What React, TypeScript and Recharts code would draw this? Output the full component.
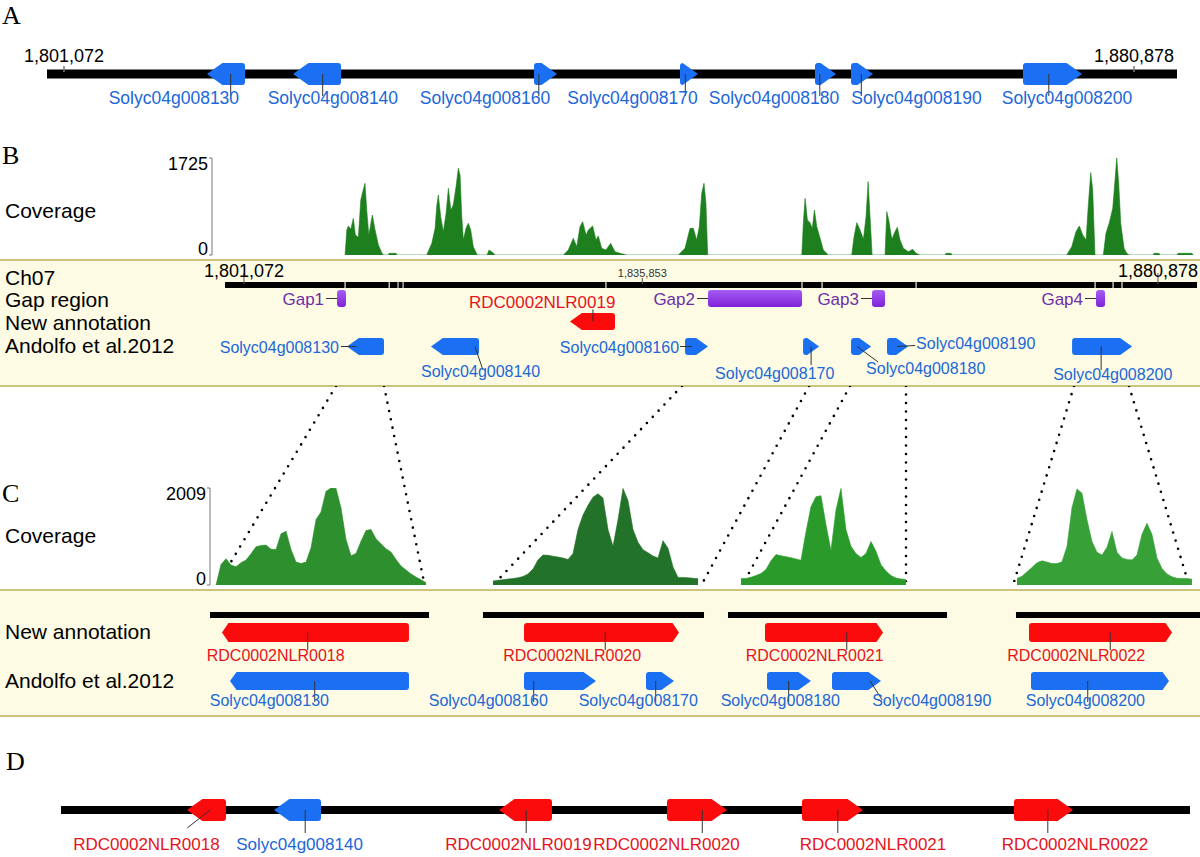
import React from "react";
import { ComposedChart, Line, Area, XAxis, YAxis, ReferenceArea } from "recharts";

const SANS = "'Liberation Sans', Arial, Helvetica, sans-serif";
const SERIF = "'Liberation Serif', 'Times New Roman', serif";

const BLUE = "#1a6ff2";
const BLUE_TEXT = "#2067d8";
const RED = "#fb0b0b";
const RED_TEXT = "#e5141c";
const PURPLE_TEXT = "#6d2ea8";

// ---------- panel A (kb) ----------
const aBackbone = [1799.804, 1884.086];
const aTicks = [1801.072, 1880.878];
const aGenes = [
  { name: "Solyc04g008130", start: 1811.738, end: 1814.572, strand: "-", source: "andolfo" },
  { name: "Solyc04g008140", start: 1818.152, end: 1821.732, strand: "-", source: "andolfo" },
  { name: "Solyc04g008160", start: 1836.127, end: 1837.843, strand: "+", source: "andolfo" },
  { name: "Solyc04g008170", start: 1847.017, end: 1848.359, strand: "+", source: "andolfo" },
  { name: "Solyc04g008180", start: 1857.086, end: 1858.652, strand: "+", source: "andolfo" },
  { name: "Solyc04g008190", start: 1859.771, end: 1861.412, strand: "+", source: "andolfo" },
  { name: "Solyc04g008200", start: 1872.599, end: 1877.0, strand: "+", source: "andolfo" },
];

// ---------- panel B (kb) ----------
const bTicks = [1801.072, 1835.853, 1880.878];
const bContigs = [
  [1799.42, 1809.85], [1809.95, 1813.7], [1813.8, 1814.48], [1814.57, 1814.92],
  [1815.01, 1832.63], [1832.73, 1849.75], [1849.85, 1851.5], [1851.6, 1859.71],
  [1859.81, 1875.34], [1875.44, 1876.91], [1877.01, 1877.69], [1877.79, 1884.29],
];
const bGaps = [
  { name: "Gap1", start: 1809.2, end: 1809.98 },
  { name: "Gap2", start: 1841.59, end: 1849.8 },
  { name: "Gap3", start: 1855.91, end: 1857.05 },
  { name: "Gap4", start: 1875.47, end: 1876.26 },
];
const bNewGenes = [
  { name: "RDC0002NLR0019", start: 1829.54, end: 1833.47, strand: "-", source: "new" },
];
const bAndolfoGenes = [
  { name: "Solyc04g008130", start: 1810.07, end: 1813.3, strand: "-", source: "andolfo" },
  { name: "Solyc04g008140", start: 1817.4, end: 1821.6, strand: "-", source: "andolfo" },
  { name: "Solyc04g008160", start: 1839.58, end: 1841.59, strand: "+", source: "andolfo" },
  { name: "Solyc04g008170", start: 1849.89, end: 1851.29, strand: "+", source: "andolfo" },
  { name: "Solyc04g008180", start: 1854.08, end: 1855.83, strand: "+", source: "andolfo" },
  { name: "Solyc04g008190", start: 1857.22, end: 1859.06, strand: "+", source: "andolfo" },
  { name: "Solyc04g008200", start: 1873.38, end: 1878.62, strand: "+", source: "andolfo" },
];
// read depth, [kb, depth]
const bCoverage = [
  [1809.9, 0], [1810.05, 445], [1810.19, 516], [1810.4, 457], [1810.62, 652], [1810.8, 356], [1811.06, 314],
  [1811.27, 978], [1811.5, 1168], [1811.64, 1275], [1811.79, 800], [1811.97, 356], [1812.08, 474], [1812.28, 711],
  [1812.52, 445], [1812.81, 178], [1813.1, 41], [1813.24, 0],
  [1813.65, 0], [1813.74, 30], [1814.35, 30], [1814.44, 0],
  [1817.03, 0], [1817.47, 207], [1817.76, 474], [1817.9, 860], [1818.04, 1067], [1818.25, 682], [1818.48, 415],
  [1818.72, 741], [1818.92, 1186], [1819.13, 800], [1819.35, 890], [1819.59, 1216], [1819.79, 1542], [1819.94, 1423],
  [1820.09, 682], [1820.23, 267], [1820.46, 474], [1820.66, 563], [1820.87, 445], [1821.1, 148], [1821.4, 18], [1821.47, 0],
  [1822.3, 0], [1822.47, 89], [1822.82, 40], [1822.99, 0],
  [1828.96, 0], [1829.39, 89], [1829.83, 297], [1830.13, 148], [1830.41, 504], [1830.65, 593], [1830.94, 356],
  [1831.14, 445], [1831.52, 516], [1831.81, 267], [1832.01, 338], [1832.31, 119], [1832.68, 89], [1833.09, 207],
  [1833.47, 59], [1833.91, 30], [1834.49, 0],
  [1839.0, 0], [1839.58, 119], [1840.02, 474], [1840.31, 474], [1840.6, 267], [1840.83, 504], [1841.04, 1097],
  [1841.24, 1275], [1841.41, 919], [1841.56, 0],
  [1849.78, 0], [1849.92, 593], [1850.07, 1008], [1850.27, 623], [1850.5, 575], [1850.7, 474], [1850.88, 800],
  [1851.09, 504], [1851.38, 297], [1851.66, 89], [1852.1, 0],
  [1854.14, 0], [1854.34, 326], [1854.58, 575], [1854.87, 445], [1855.16, 279], [1855.39, 682], [1855.57, 1305],
  [1855.74, 682], [1855.92, 0],
  [1857.05, 0], [1857.2, 771], [1857.37, 623], [1857.64, 279], [1857.92, 415], [1858.12, 492], [1858.36, 267],
  [1858.65, 119], [1859.08, 59], [1859.47, 101], [1859.76, 30], [1860.11, 0],
  [1862.29, 0], [1862.38, 30], [1862.81, 30], [1862.9, 0],
  [1872.91, 0], [1873.35, 148], [1873.72, 415], [1874.01, 516], [1874.31, 356], [1874.6, 267], [1874.8, 890],
  [1875.01, 1465], [1875.18, 1156], [1875.38, 0], [1876.11, 0], [1876.34, 385], [1876.63, 575], [1876.93, 830],
  [1877.13, 1334], [1877.28, 1725], [1877.45, 1275], [1877.63, 563], [1877.92, 119], [1878.15, 30], [1878.38, 0],
  [1880.45, 0], [1880.54, 30], [1880.97, 30], [1881.05, 0], [1882.54, 0], [1882.63, 30], [1883.85, 30], [1883.94, 0],
];
const bCoverageMax = 1725;

// zoom links: [position in B, matching position under C]
const zoomLinks = [
  [1809.11, 1798.89], [1813.3, 1816.79], [1839.32, 1823.08], [1850.41, 1841.16],
  [1853.99, 1844.74], [1858.88, 1858.88], [1873.55, 1868.31], [1878.35, 1883.51],
];

// ---------- panel C (kb, four zoomed windows) ----------
const cWindows = [
  [1808.926, 1813.525], [1838.463, 1851.053], [1853.266, 1860.208], [1873.302, 1878.681],
];
const cBars = [
  [1808.926, 1813.402], [1838.624, 1850.464], [1853.507, 1860.118], [1873.605, 1878.681],
];
const cNewGenes = [
  { name: "RDC0002NLR0018", start: 1809.171, end: 1812.993, strand: "-", source: "new" },
  { name: "RDC0002NLR0020", start: 1840.82, end: 1849.124, strand: "+", source: "new" },
  { name: "RDC0002NLR0021", start: 1854.624, end: 1858.186, strand: "+", source: "new" },
  { name: "RDC0002NLR0022", start: 1873.964, end: 1877.909, strand: "+", source: "new" },
];
const cAndolfoGenes = [
  { name: "Solyc04g008130", start: 1809.335, end: 1812.993, strand: "-", source: "andolfo" },
  { name: "Solyc04g008160", start: 1840.82, end: 1844.678, strand: "+", source: "andolfo" },
  { name: "Solyc04g008170", start: 1847.356, end: 1848.857, strand: "+", source: "andolfo" },
  { name: "Solyc04g008180", start: 1854.684, end: 1856.012, strand: "+", source: "andolfo" },
  { name: "Solyc04g008190", start: 1856.646, end: 1858.125, strand: "+", source: "andolfo" },
  { name: "Solyc04g008200", start: 1874.019, end: 1877.826, strand: "+", source: "andolfo" },
];
const cCoverageStart = [1809.049, 1839.159, 1853.899, 1873.633];
const cCoverageStep = [0.1022, 0.2679, 0.1509, 0.1379];
const cCoverage1 = [0, 426, 544, 413, 378, 461, 516, 647, 791, 819, 826, 743, 736, 1060, 1115, 736, 474, 447, 474, 770, 1355, 1514, 1940, 2009, 2002, 1596, 942, 605, 654, 908, 1128, 1149, 956, 853, 750, 681, 530, 392, 310, 227, 165, 110, 48];
const cCoverage2 = [83, 96, 110, 123, 133, 151, 175, 230, 330, 520, 619, 615, 597, 578, 560, 530, 650, 1150, 1450, 1650, 1820, 1890, 1800, 1150, 800, 1350, 2000, 1750, 1150, 885, 730, 670, 600, 560, 919, 760, 375, 157, 157, 150, 140, 129];
const cCoverage3 = [136, 136, 160, 195, 238, 320, 500, 630, 605, 585, 565, 540, 511, 1100, 1620, 1830, 1850, 1250, 715, 1550, 2000, 1150, 800, 650, 570, 650, 900, 700, 420, 290, 195, 145, 125, 116];
const cCoverage4 = [136, 180, 272, 365, 460, 500, 475, 443, 443, 480, 800, 1600, 1990, 1900, 1350, 900, 680, 620, 780, 1110, 680, 560, 530, 520, 620, 1050, 1280, 1050, 560, 340, 230, 170, 140, 136, 136, 120];
const cCoverageMax = 2009;

// ---------- panel D (kb) ----------
const dBackbone = [1800.849, 1885.055];
const dGenes = [
  { name: "RDC0002NLR0018", start: 1810.246, end: 1813.155, strand: "-", source: "new" },
  { name: "Solyc04g008140", start: 1816.735, end: 1820.241, strand: "-", source: "andolfo" },
  { name: "RDC0002NLR0019", start: 1833.517, end: 1837.47, strand: "-", source: "new" },
  { name: "RDC0002NLR0020", start: 1846.047, end: 1850.522, strand: "+", source: "new" },
  { name: "RDC0002NLR0021", start: 1856.116, end: 1860.666, strand: "+", source: "new" },
  { name: "RDC0002NLR0022", start: 1871.928, end: 1876.329, strand: "+", source: "new" },
];

// label placement (px): tick dx, line dx, line dy, text dx, text dy, anchor
const aPlaces = [
  [-3, 0, 22, -122, 30, "start"], [-2, 0, 22, -55, 30, "start"], [1, 0, 22, -119, 30, "start"],
  [4, 0, 22, -118, 30, "start"], [2, 0, 22, -111, 30, "start"], [7, 0, 22, -10, 30, "start"],
  [4, 0, 22, -47, 30, "start"],
];
const bNewPlaces = [[-5.5, 0, -12, -124, -13.5, "start"]];
const bAndolfoPlaces = [
  [-15, -15.5, 0, -17.5, 6.5, "end"], [14, 8, 23.5, -54, 30.5, "start"], [1.5, -12, 0, -13, 6.5, "end"],
  [6, 0, 18.5, -96, 32.5, "start"], [2, 21, 15.5, 9, 27.5, "start"], [5.5, 18, -1, 19, 2.5, "start"],
  [5, 0, 23.5, -48, 33.5, "start"],
];
const cNewPlaces = [
  [-11, 0, 17.5, -101, 28.5, "start"], [7, 0, 17.5, -102, 28.5, "start"],
  [26, 0, 17.5, -101, 28.5, "start"], [13, 0, 17.5, -103, 28.5, "start"],
];
const cAndolfoPlaces = [
  [-8, 0, 21, -105, 25, "start"], [-20, 0, 21, -105, 25, "start"], [2, 0, 21, -77, 25, "start"],
  [6, 0, 21, -68, 25, "start"], [20, 12, 19, 2, 25, "start"], [-9, 0, 21, -62, 25, "start"],
];
const dPlaces = [
  [-4, -23, 18, -137, 40, "start"], [0, 0, 23, -69, 40, "start"], [-7, 0, 23, -81, 40, "start"],
  [13, 0, 23, -109, 40, "start"], [13, 0, 23, -38, 40, "start"], [12, 0, 23, -46, 40, "start"],
];

function GeneGlyph(props: any) {
  const { x, y, width, height, gene, place, fontSize } = props;
  if (x == null || width == null || !gene) return null;
  const h = height;
  const cy = y + h / 2;
  const a = Math.min(width, width > 100 ? 6.5 : 0.7 * h);
  const r = Math.min(3, h / 5);
  const minus = gene.strand === "-";
  let d: string;
  if (minus) {
    const b0 = x + a;
    d = `M${x},${cy} L${b0},${y} L${x + width - r},${y} Q${x + width},${y} ${x + width},${y + r} L${x + width},${y + h - r} Q${x + width},${y + h} ${x + width - r},${y + h} L${b0},${y + h} Z`;
  } else {
    const b1 = x + width - a;
    d = `M${x + width},${cy} L${b1},${y + h} L${x + r},${y + h} Q${x},${y + h} ${x},${y + h - r} L${x},${y + r} Q${x},${y} ${x + r},${y} L${b1},${y} Z`;
  }
  const bc = minus ? x + a + (width - a) / 2 : x + (width - a) / 2;
  const [tdx, cdx, cdy, ldx, ldy, anchor] = place || [0, 0, 20, 0, 30, "middle"];
  const px = bc + tdx;
  const isNew = gene.source === "new";
  return (
    <g>
      <path d={d} fill={isNew ? RED : BLUE} />
      <line x1={px} y1={cy} x2={px + cdx} y2={cy + cdy} stroke="#333" strokeWidth={1} />
      <text x={px + ldx} y={cy + ldy} textAnchor={anchor} fontSize={fontSize} fontFamily={SANS} fill={isNew ? RED_TEXT : BLUE_TEXT}>
        {gene.name}
      </text>
    </g>
  );
}

function GapGlyph(props: any) {
  const { x, y, width, height, gap } = props;
  if (x == null || !gap) return null;
  const cy = y + height / 2;
  const id = "grad-" + gap.name;
  return (
    <g>
      <defs>
        <linearGradient id={id} x1="0" y1="0" x2="0" y2="1">
          <stop offset="0" stopColor="#a65cf4" />
          <stop offset="1" stopColor="#7f22d8" />
        </linearGradient>
      </defs>
      <line x1={x - 11} y1={cy} x2={x + Math.min(5, width / 2)} y2={cy} stroke="#333" strokeWidth={1} />
      <rect x={x} y={y} width={width} height={height} rx={3} fill={`url(#${id})`} />
      <text x={x - 13} y={cy + 6} textAnchor="end" fontSize={17} fontFamily={SANS} fill={PURPLE_TEXT}>
        {gap.name}
      </text>
    </g>
  );
}

function ChromTick(props: any) {
  const { x, y, payload, small, variant } = props;
  const v = payload.value;
  const isSmall = small.includes(v);
  const label = Math.round(v * 1000).toLocaleString("en-US");
  if (variant === "A") {
    return (
      <g>
        <line x1={x} x2={x} y1={y + 3} y2={y + 9} stroke="#777" strokeWidth={1.5} />
        <text x={x} y={y - 1} textAnchor="middle" fontSize={18} fontFamily={SANS} fill="#000">{label}</text>
      </g>
    );
  }
  return (
    <g>
      <line x1={x} x2={x} y1={y - (isSmall ? 4 : 9)} y2={y + 2} stroke="#555" strokeWidth={1} />
      <text x={x} y={y - 5} textAnchor="middle" fontSize={isSmall ? 11 : 18} fontFamily={SANS} fill={isSmall ? "#333" : "#000"}>
        {label}
      </text>
    </g>
  );
}

function CovTick(props: any) {
  const { x, y, payload, max } = props;
  const top = payload.value === max;
  return (
    <text x={x} y={top ? y + 12 : y} textAnchor="end" fontSize={18} fontFamily={SANS} fill="#000">
      {payload.value}
    </text>
  );
}

function Track(props: any) {
  const {
    left, top, width, height, domain, genes = [], places = [], gaps = [], fontSize = 16,
    line, lineWidth = 6, ticks, smallTicks = [], tickVariant = "B",
  } = props;
  const axisH = ticks ? 20 : 0;
  const inside = (g: any) => g.start >= domain[0] && g.end <= domain[1];
  return (
    <div style={{ position: "absolute", left, top: top - axisH }}>
      <ComposedChart width={width} height={height + axisH} data={line} margin={{ top: 0, right: 0, bottom: 0, left: 0 }}>
        <XAxis
          type="number" dataKey="x" domain={domain} allowDataOverflow hide={!ticks} orientation="top"
          height={axisH} ticks={ticks} interval={0} tickLine={false} axisLine={false} tickSize={0} tickMargin={0}
          tick={ticks ? (p: any) => <ChromTick {...p} small={smallTicks} variant={tickVariant} /> : false}
        />
        <YAxis type="number" domain={[0, 1]} allowDataOverflow hide />
        {line && (
          <Line dataKey="y" stroke="#000" strokeWidth={lineWidth} dot={false} activeDot={false} isAnimationActive={false} connectNulls={false} />
        )}
        {gaps.map((g: any) => (
          <ReferenceArea key={g.name} x1={g.start} x2={g.end} ifOverflow="visible" zIndex={450}
            shape={(sp: any) => <GapGlyph {...sp} gap={g} />} />
        ))}
        {genes.map((g: any, i: number) =>
          inside(g) ? (
            <ReferenceArea key={g.name} x1={g.start} x2={g.end} ifOverflow="visible" zIndex={450}
              shape={(sp: any) => <GeneGlyph {...sp} gene={g} place={places[i]} fontSize={fontSize} />} />
          ) : null
        )}
      </ComposedChart>
    </div>
  );
}

function CoverageChart(props: any) {
  const { left, top, width, height, axisWidth, domain, data, max, fill } = props;
  return (
    <div style={{ position: "absolute", left, top }}>
      <ComposedChart width={width} height={height} data={data} margin={{ top: 0, right: 0, bottom: 0, left: 0 }}>
        <XAxis type="number" dataKey="x" domain={domain} allowDataOverflow hide />
        <YAxis
          type="number" domain={[0, max]} allowDataOverflow hide={!axisWidth} width={axisWidth || 0}
          ticks={[0, max]} interval={0} tickSize={3} tickMargin={1}
          axisLine={{ stroke: "#777" }} tickLine={{ stroke: "#777" }}
          tick={(p: any) => <CovTick {...p} max={max} />}
        />
        <Area type="linear" dataKey="y" fill={fill} stroke={fill} strokeWidth={0.6} fillOpacity={1}
          dot={false} activeDot={false} isAnimationActive={false} />
      </ComposedChart>
    </div>
  );
}

const segLine = (s: number, e: number) => [{ x: s, y: 0.5 }, { x: e, y: 0.5 }];

export default function App() {
  const aDomain = [1796.299, 1885.801];
  const bDomain = [1779.77, 1884.55];
  const bCovDomain = [1798.28, 1884.55];
  const cLeft = [210, 480, 720, 1005];
  const cWidth = [225, 235, 230, 195];
  const cFill = ["#2d8f2d", "#23722a", "#2a9a2a", "#37a037"];
  const cCoverage = [cCoverage1, cCoverage2, cCoverage3, cCoverage4];

  const bLine: any[] = [];
  bContigs.forEach(([s, e], i) => {
    bLine.push({ x: s, y: 0.5 }, { x: e, y: 0.5 });
    if (i < bContigs.length - 1) bLine.push({ x: (e + bContigs[i + 1][0]) / 2, y: null });
  });
  const bCov = bCoverage.map(([x, y]) => ({ x, y }));
  const linkData: any[] = [];
  zoomLinks.forEach(([t, b], i) => {
    linkData.push({ x: t, ["l" + i]: 1 }, { x: b, ["l" + i]: 0 });
  });

  const rowLabel = { fontSize: 21, fontFamily: SANS, fill: "#000" } as any;
  const letter = { fontSize: 26, fontFamily: SERIF, fill: "#000" } as any;

  return (
    <div style={{ position: "absolute", left: 0, top: 0, width: 1200, height: 857, background: "#fff", overflow: "hidden" }}>
      <style>{`.recharts-surface{overflow:visible}`}</style>
      <div style={{ position: "absolute", left: 0, top: 259, width: 1200, height: 128, boxSizing: "border-box", background: "#fdfbe3", borderTop: "2px solid #cbc47a", borderBottom: "2px solid #cbc47a" }} />
      <div style={{ position: "absolute", left: 0, top: 589, width: 1200, height: 128, boxSizing: "border-box", background: "#fdfbe3", borderTop: "2px solid #cbc47a", borderBottom: "2px solid #cbc47a" }} />

      <svg width={1200} height={857} style={{ position: "absolute", left: 0, top: 0 }}>
        <text x={2} y={24} {...letter}>A</text>
        <text x={2} y={164} {...letter}>B</text>
        <text x={2} y={502} {...letter}>C</text>
        <text x={6} y={770} {...letter}>D</text>
        <text x={5} y={218} {...rowLabel}>Coverage</text>
        <text x={5} y={285} {...rowLabel}>Ch07</text>
        <text x={5} y={307} {...rowLabel}>Gap region</text>
        <text x={5} y={330} {...rowLabel}>New annotation</text>
        <text x={5} y={353} {...rowLabel}>Andolfo et al.2012</text>
        <text x={5} y={543} {...rowLabel}>Coverage</text>
        <text x={5} y={639} {...rowLabel}>New annotation</text>
        <text x={5} y={688} {...rowLabel}>Andolfo et al.2012</text>
      </svg>

      {/* A */}
      <Track left={0} top={63} width={1200} height={22} domain={aDomain} line={segLine(aBackbone[0], aBackbone[1])}
        lineWidth={9} ticks={aTicks} tickVariant="A" genes={aGenes} places={aPlaces} fontSize={17.5} />

      {/* B */}
      <CoverageChart left={0} top={158} width={1200} height={97} axisWidth={212} domain={bCovDomain}
        data={bCov} max={bCoverageMax} fill="#1d7f1d" />
      <Track left={0} top={282} width={1200} height={6} domain={bDomain} line={bLine} lineWidth={6}
        ticks={bTicks} smallTicks={[1835.853]} />
      <Track left={0} top={290} width={1200} height={17} domain={bDomain} gaps={bGaps} />
      <Track left={0} top={313} width={1200} height={17} domain={bDomain} genes={bNewGenes} places={bNewPlaces} fontSize={17} />
      <Track left={0} top={338} width={1200} height={17} domain={bDomain} genes={bAndolfoGenes} places={bAndolfoPlaces} fontSize={16} />

      {/* zoom links */}
      <div style={{ position: "absolute", left: 0, top: 386 }}>
        <ComposedChart width={1200} height={196} data={linkData} margin={{ top: 0, right: 0, bottom: 0, left: 0 }}>
          <XAxis type="number" dataKey="x" domain={bDomain} allowDataOverflow hide />
          <YAxis type="number" domain={[0, 1]} allowDataOverflow hide />
          {zoomLinks.map((_, i) => (
            <Line key={i} dataKey={"l" + i} stroke="#000" strokeWidth={2.6} strokeDasharray="0 8.5" strokeLinecap="round"
              connectNulls dot={false} activeDot={false} isAnimationActive={false} />
          ))}
        </ComposedChart>
      </div>

      {/* C */}
      {cWindows.map((dom, i) => (
        <React.Fragment key={i}>
          <CoverageChart
            left={i === 0 ? 0 : cLeft[i]} top={488} width={i === 0 ? cLeft[0] + cWidth[0] : cWidth[i]} height={97}
            axisWidth={i === 0 ? cLeft[0] : 0} domain={dom} max={cCoverageMax} fill={cFill[i]}
            data={cCoverage[i].map((v, j) => ({ x: cCoverageStart[i] + j * cCoverageStep[i], y: v }))}
          />
          <Track left={cLeft[i]} top={612} width={cWidth[i]} height={6} domain={dom} line={segLine(cBars[i][0], cBars[i][1])} lineWidth={6} />
          <Track left={cLeft[i]} top={623} width={cWidth[i]} height={19} domain={dom} genes={cNewGenes} places={cNewPlaces} fontSize={16} />
          <Track left={cLeft[i]} top={672} width={cWidth[i]} height={18} domain={dom} genes={cAndolfoGenes} places={cAndolfoPlaces} fontSize={16} />
        </React.Fragment>
      ))}

      {/* D */}
      <Track left={0} top={799} width={1200} height={22} domain={aDomain} line={segLine(dBackbone[0], dBackbone[1])}
        lineWidth={8} genes={dGenes} places={dPlaces} fontSize={17} />
    </div>
  );
}
